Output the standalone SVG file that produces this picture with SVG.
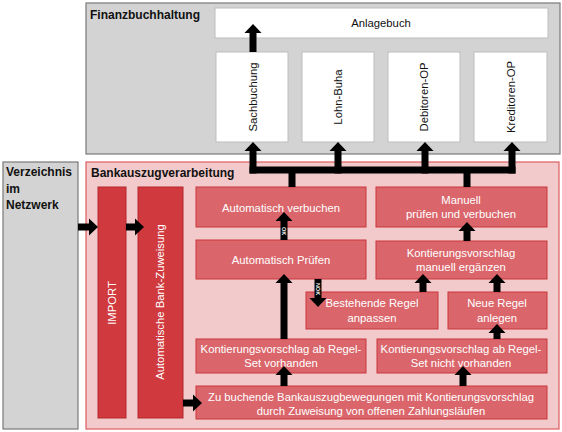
<svg xmlns="http://www.w3.org/2000/svg" width="562" height="432" viewBox="0 0 562 432">
<style>
.gray{fill:#d3d3d3;stroke:#7a7a7a;stroke-width:1.2}
.white{fill:#ffffff;stroke:#bdbdbd;stroke-width:1}
.pink{fill:#f2cacb;stroke:#de5c60;stroke-width:1.2}
.bar{fill:#d03a3e;stroke:#b5272c;stroke-width:1}
.box{fill:#da666b;stroke:#c9363c;stroke-width:1}
.title{font-family:"Liberation Sans",Arial,sans-serif;font-weight:bold;font-size:12px;fill:#111}
.t{font-family:"Liberation Sans",Arial,sans-serif;font-size:11.3px;fill:#fff;text-anchor:middle;dominant-baseline:central}
.tb{font-family:"Liberation Sans",Arial,sans-serif;font-size:11.3px;fill:#111;text-anchor:middle;dominant-baseline:central}
.lbl{font-family:"Liberation Sans",Arial,sans-serif;font-size:5.5px;font-weight:bold;fill:#fff;text-anchor:middle;dominant-baseline:central}
.c{stroke:#000;stroke-width:7;fill:none}
</style>
<defs>
<marker id="ah" markerUnits="userSpaceOnUse" markerWidth="10" markerHeight="18" refX="0" refY="9" orient="auto" overflow="visible">
<path d="M0,0.5 L9,9 L0,17.5 z" fill="#000"/>
</marker>
</defs>

<g id="finanzbuchhaltung">
<rect class="gray" x="86" y="3" width="474" height="151"/>
<text class="title" x="90" y="19">Finanzbuchhaltung</text>
</g>
<g id="anlagebuch">
<rect class="white" x="215" y="8" width="333" height="30"/>
<text class="tb" x="381" y="23">Anlagebuch</text>
</g>
<g id="sachbuchung">
<rect class="white" x="216" y="52" width="72" height="90"/>
<text class="tb" transform="translate(253,97) rotate(-90)">Sachbuchung</text>
</g>
<g id="lohn-buha">
<rect class="white" x="302" y="52" width="72" height="90"/>
<text class="tb" transform="translate(338,97) rotate(-90)">Lohn-Buha</text>
</g>
<g id="debitoren-op">
<rect class="white" x="388" y="52" width="72" height="90"/>
<text class="tb" transform="translate(424,97) rotate(-90)">Debitoren-OP</text>
</g>
<g id="kreditoren-op">
<rect class="white" x="474" y="52" width="73" height="90"/>
<text class="tb" transform="translate(511,97) rotate(-90)">Kreditoren-OP</text>
</g>

<g id="verzeichnis">
<rect class="gray" x="3" y="162" width="75" height="267"/>
<text class="title" x="6" y="176">Verzeichnis</text>
<text class="title" x="6" y="193">im</text>
<text class="title" x="6" y="209">Netzwerk</text>
</g>

<g id="bankauszugverarbeitung">
<rect class="pink" x="86" y="162" width="473" height="267"/>
<text class="title" x="91" y="177">Bankauszugverarbeitung</text>
</g>
<g id="import">
<rect class="bar" x="98" y="187" width="28" height="231"/>
<text class="t" transform="translate(112,303) rotate(-90)">IMPORT</text>
</g>
<g id="bank-zuweisung">
<rect class="bar" x="138" y="187" width="45" height="231"/>
<text class="t" transform="translate(160,302) rotate(-90)">Automatische Bank-Zuweisung</text>
</g>
<g id="automatisch-verbuchen">
<rect class="box" x="196" y="187" width="170" height="40"/>
<text class="t" x="281" y="208">Automatisch verbuchen</text>
</g>
<g id="manuell-pruefen">
<rect class="box" x="376" y="187" width="171" height="40"/>
<text class="t" x="461" y="200">Manuell</text>
<text class="t" x="461" y="214">prüfen und verbuchen</text>
</g>
<g id="automatisch-pruefen">
<rect class="box" x="196" y="240" width="170" height="39"/>
<text class="t" x="281" y="260">Automatisch Prüfen</text>
</g>
<g id="manuell-ergaenzen">
<rect class="box" x="376" y="241" width="171" height="38"/>
<text class="t" x="461" y="253">Kontierungsvorschlag</text>
<text class="t" x="461" y="267">manuell ergänzen</text>
</g>
<g id="bestehende-regel">
<rect class="box" x="306" y="292" width="132" height="37"/>
<text class="t" x="372" y="303">Bestehende Regel</text>
<text class="t" x="372" y="318">anpassen</text>
</g>
<g id="neue-regel">
<rect class="box" x="448" y="292" width="99" height="37"/>
<text class="t" x="497" y="303">Neue Regel</text>
<text class="t" x="497" y="318">anlegen</text>
</g>
<g id="regelset-vorhanden">
<rect class="box" x="196" y="339" width="170" height="34"/>
<text class="t" x="281" y="349">Kontierungsvorschlag ab Regel-</text>
<text class="t" x="281" y="363">Set vorhanden</text>
</g>
<g id="regelset-nicht-vorhanden">
<rect class="box" x="377" y="339" width="170" height="34"/>
<text class="t" x="461" y="349">Kontierungsvorschlag ab Regel-</text>
<text class="t" x="461" y="363">Set nicht vorhanden</text>
</g>
<g id="zu-buchende">
<rect class="box" x="196" y="386" width="351" height="33"/>
<text class="t" x="371" y="397">Zu buchende Bankauszugbewegungen mit Kontierungsvorschlag</text>
<text class="t" x="371" y="411">durch Zuweisung von offenen Zahlungsläufen</text>
</g>

<g id="connectors">
<line class="c" x1="253" y1="52" x2="253" y2="33" marker-end="url(#ah)"/>
<line class="c" x1="249.5" y1="170" x2="515.5" y2="170"/>
<line class="c" x1="253" y1="173.5" x2="253" y2="151" marker-end="url(#ah)"/>
<line class="c" x1="338" y1="173.5" x2="338" y2="151" marker-end="url(#ah)"/>
<line class="c" x1="425" y1="173.5" x2="425" y2="151" marker-end="url(#ah)"/>
<line class="c" x1="512" y1="173.5" x2="512" y2="151" marker-end="url(#ah)"/>
<line class="c" x1="292" y1="187" x2="292" y2="170"/>
<line class="c" x1="467" y1="187" x2="467" y2="170"/>
<line class="c" x1="284" y1="240" x2="284" y2="221" marker-end="url(#ah)"/>
<text class="lbl" transform="translate(284,231) rotate(90)">OK</text>
<line class="c" x1="318" y1="279" x2="318" y2="298" marker-end="url(#ah)"/>
<text class="lbl" transform="translate(318,289) rotate(90)">NOK</text>
<line class="c" x1="284" y1="339" x2="284" y2="283" marker-end="url(#ah)"/>
<line class="c" x1="284" y1="386" x2="284" y2="375" marker-end="url(#ah)"/>
<line class="c" x1="463" y1="386" x2="463" y2="375" marker-end="url(#ah)"/>
<line class="c" x1="497" y1="339" x2="497" y2="333" marker-end="url(#ah)"/>
<line class="c" x1="423" y1="292" x2="423" y2="283" marker-end="url(#ah)"/>
<line class="c" x1="497" y1="292" x2="497" y2="283" marker-end="url(#ah)"/>
<line class="c" x1="467" y1="241" x2="467" y2="231" marker-end="url(#ah)"/>
<line class="c" x1="78" y1="227" x2="89" y2="227" marker-end="url(#ah)"/>
<line class="c" x1="126" y1="227" x2="135" y2="227" marker-end="url(#ah)"/>
<line class="c" x1="183" y1="403" x2="193" y2="403" marker-end="url(#ah)"/>
</g>
</svg>
